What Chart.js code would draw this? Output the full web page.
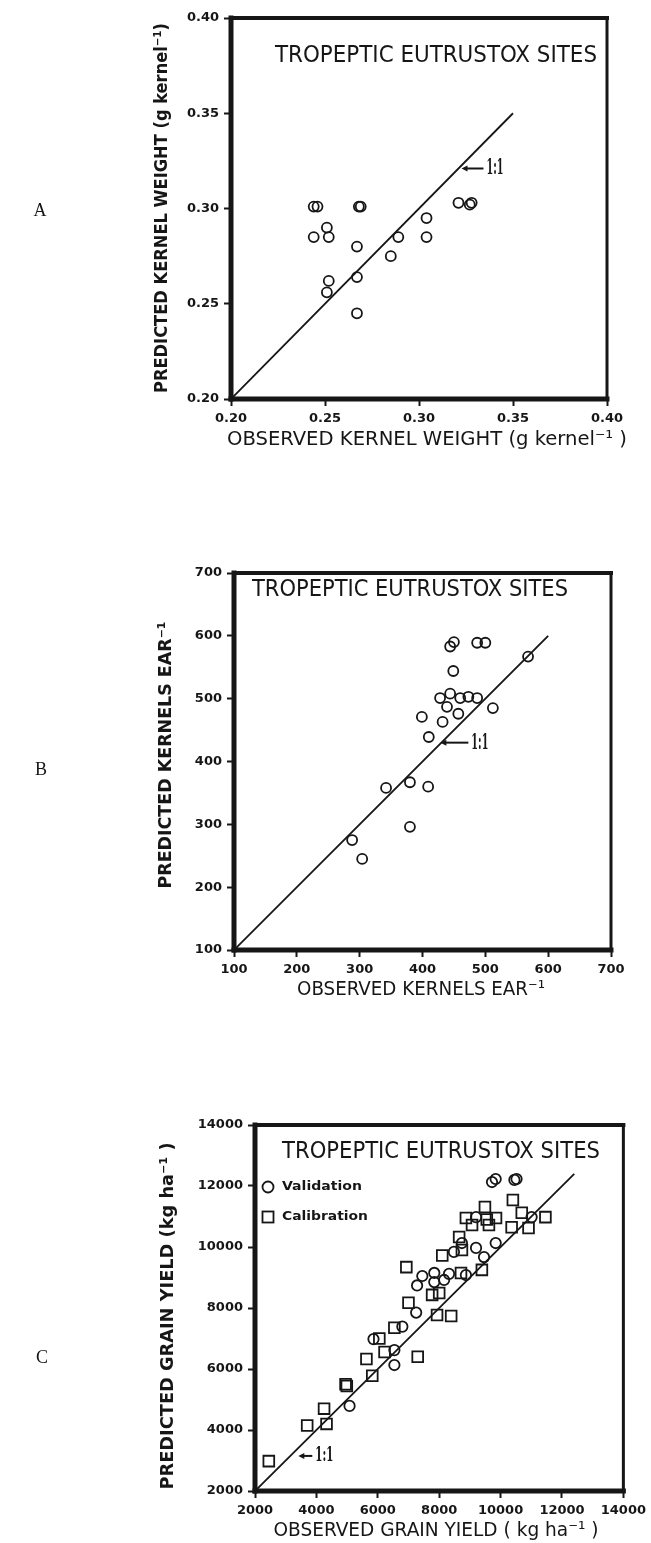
<!DOCTYPE html>
<html>
<head>
<meta charset="utf-8">
<script src="https://cdn.jsdelivr.net/npm/chart.js@4.4.1/dist/chart.umd.min.js"></script>
<style>
  html, body { margin: 0; padding: 0; background: #fff; }
  body { width: 651px; height: 1543px; position: relative; overflow: hidden; }
  canvas { position: absolute; left: 0; }
</style>
</head>
<body>
<canvas id="weightChart" width="651" height="470" style="top:0px"></canvas>
<canvas id="kernelsChart" width="651" height="480" style="top:540px"></canvas>
<canvas id="yieldChart" width="651" height="453" style="top:1090px"></canvas>
<script>
// ---- Panel A: kernel weight (g kernel-1) ----
const weightObserved  = [0.244, 0.246, 0.268, 0.269, 0.244, 0.251, 0.252, 0.267, 0.267, 0.252, 0.251, 0.267, 0.285, 0.289, 0.304, 0.304, 0.321, 0.327, 0.328];
const weightPredicted = [0.301, 0.301, 0.301, 0.301, 0.285, 0.290, 0.285, 0.280, 0.264, 0.262, 0.256, 0.245, 0.275, 0.285, 0.295, 0.285, 0.303, 0.302, 0.303];
const weightRange = [0.20, 0.40];
const weightStep = 0.05;
const weightOneToOne = [0.20, 0.35];

// ---- Panel B: kernels per ear ----
const kernelsObserved  = [288, 304, 342, 380, 409, 380, 410, 399, 432, 457, 439, 428, 444, 460, 473, 487, 512, 449, 444, 450, 487, 500, 568];
const kernelsPredicted = [275, 245, 358, 367, 360, 296, 439, 471, 463, 476, 487, 501, 508, 501, 503, 501, 485, 544, 583, 590, 589, 589, 567];
const kernelsRange = [100, 700];
const kernelsStep = 100;
const kernelsOneToOne = [100, 600];

// ---- Panel C: grain yield (kg ha-1) ----
const validationObserved  = [5080, 5860, 6540, 6540, 6800, 7250, 7450, 7280, 7840, 7840, 8320, 8160, 8480, 8870, 9200, 9460, 9840, 9200, 11010, 9720, 9840, 10450, 10520, 8740];
const validationPredicted = [4790, 6980, 6620, 6130, 7390, 7850, 9050, 8740, 9150, 8850, 9120, 8920, 9840, 9080, 9970, 9670, 10130, 10980, 10980, 12130, 12230, 12200, 12230, 10130];
const calibrationObserved  = [2450, 3700, 4250, 4330, 4950, 4990, 5630, 5820, 6050, 6220, 6540, 7000, 6930, 7300, 7770, 8000, 7930, 8390, 8100, 8650, 8710, 8740, 8870, 9390, 9490, 9550, 9620, 9850, 10400, 10690, 11460, 10360, 10910, 9070];
const calibrationPredicted = [2980, 4150, 4700, 4200, 5500, 5440, 6330, 5780, 7000, 6560, 7350, 8170, 9340, 6400, 8430, 8490, 7770, 7740, 9720, 10330, 9150, 9900, 10950, 9250, 11310, 10900, 10720, 10950, 11540, 11120, 10980, 10650, 10620, 10720];
const yieldRange = [2000, 14000];
const yieldStep = 2000;
const yieldOneToOne = [2000, 12400];

const siteTitle = 'TROPEPTIC EUTRUSTOX SITES';
const INK = '#161616';

function zip(xs, ys) { return xs.map((x, i) => ({ x, y: ys[i] })); }

function linearAxis(range, step, digits, fit, isX) {
  return {
    type: 'linear', min: range[0], max: range[1],
    ticks: {
      stepSize: step, autoSkip: false, maxRotation: 0, padding: 5, color: INK,
      font: { family: 'DejaVu Sans', weight: 'bold', size: 13 },
      callback: v => Number(v).toFixed(digits)
    },
    grid: { drawOnChartArea: false, drawTicks: true, tickLength: 7, tickWidth: 2, tickColor: INK },
    border: { display: false },
    afterFit: s => { if (isX) s.height = fit; else s.width = fit; }
  };
}

function scatterSet(xs, ys, style, radius) {
  return {
    type: 'scatter', data: zip(xs, ys), pointStyle: style,
    pointRadius: radius, pointHoverRadius: radius,
    pointBorderWidth: 1.8, pointBorderColor: INK, pointBackgroundColor: 'rgba(0,0,0,0)'
  };
}

function lineSet(ends) {
  return {
    type: 'line', data: zip(ends, ends), showLine: true, borderColor: INK,
    borderWidth: 1.8, pointRadius: 0, fill: false
  };
}

// draw a string centred on (cx, cy) and squeezed/stretched to a given width
function fitText(ctx, str, cx, cy, width, font, rotate) {
  ctx.save();
  ctx.font = font;
  ctx.fillStyle = INK;
  const w = ctx.measureText(str).width;
  ctx.translate(cx, cy);
  if (rotate) ctx.rotate(rotate);
  ctx.scale(width / w, 1);
  ctx.textAlign = 'center';
  ctx.textBaseline = 'middle';
  ctx.fillText(str, 0, 0);
  ctx.restore();
}

function strokeSeg(ctx, x1, y1, x2, y2, w) {
  ctx.lineWidth = w;
  ctx.beginPath(); ctx.moveTo(x1, y1); ctx.lineTo(x2, y2); ctx.stroke();
}

// frame: heavy axes on the left and bottom, lighter top and right
const framePlugin = {
  id: 'frame',
  afterDatasetsDraw(chart) {
    const { ctx, chartArea: a } = chart;
    ctx.save();
    ctx.strokeStyle = INK;
    ctx.lineCap = 'square';
    strokeSeg(ctx, a.left, a.top, a.right, a.top, 4);
    strokeSeg(ctx, a.right, a.top, a.right, a.bottom, 3);
    strokeSeg(ctx, a.left, a.top, a.left, a.bottom, 5);
    strokeSeg(ctx, a.left, a.bottom, a.right, a.bottom, 5);
    ctx.restore();
  }
};

// titles, panel letter, 1:1 pointer and (optionally) the symbol key
const annotationPlugin = {
  id: 'annotations',
  afterDraw(chart, args, o) {
    const ctx = chart.ctx;
    const a = chart.chartArea;
    const sx = chart.scales.x, sy = chart.scales.y;
    // panel letter
    ctx.save();
    ctx.font = '18px "Liberation Serif", "DejaVu Serif", serif';
    ctx.fillStyle = INK; ctx.textAlign = 'center'; ctx.textBaseline = 'middle';
    ctx.fillText(o.letter, o.letterPos[0], o.letterPos[1]);
    ctx.restore();
    // inner heading
    fitText(ctx, siteTitle, o.head[0], o.head[1], o.head[2], '23px "DejaVu Sans Condensed", "DejaVu Sans", sans-serif');
    // axis titles
    fitText(ctx, o.xTitle, o.xPos[0], o.xPos[1], o.xPos[2], '20px "DejaVu Sans Condensed", "DejaVu Sans", sans-serif');
    fitText(ctx, o.yTitle, o.yPos[0], o.yPos[1], o.yPos[2], 'bold 18px "DejaVu Sans Condensed", "DejaVu Sans", sans-serif', -Math.PI / 2);
    // 1:1 pointer
    const px = sx.getPixelForValue(o.ratioAt), py = sy.getPixelForValue(o.ratioAt);
    const tip = px + o.ratioGap, tail = tip + o.ratioLen;
    ctx.save();
    ctx.strokeStyle = INK; ctx.fillStyle = INK;
    strokeSeg(ctx, tip + 3, py, tail, py, 2);
    ctx.beginPath(); ctx.moveTo(tip, py); ctx.lineTo(tip + 6, py - 3); ctx.lineTo(tip + 6, py + 3); ctx.closePath(); ctx.fill();
    ctx.restore();
    fitText(ctx, '1:1', tail + 3 + o.ratioText[0] / 2, py, o.ratioText[0], 'bold ' + o.ratioText[1] + 'px "DejaVu Serif Condensed", "DejaVu Serif", serif');
    // symbol key
    if (o.key) {
      ctx.save();
      ctx.strokeStyle = INK; ctx.lineWidth = 1.8;
      const kx = a.left + 13;
      const y1 = a.top + 62, y2 = a.top + 92;
      ctx.beginPath(); ctx.arc(kx, y1, 5.5, 0, Math.PI * 2); ctx.stroke();
      ctx.strokeRect(kx - 5.5, y2 - 5.5, 11, 11);
      ctx.restore();
      fitText(ctx, 'Validation', kx + 14 + 40, y1, 80, 'bold 13px "DejaVu Sans", sans-serif');
      fitText(ctx, 'Calibration', kx + 14 + 43, y2, 86, 'bold 13px "DejaVu Sans", sans-serif');
    }
  }
};

Chart.register(framePlugin, annotationPlugin);

function baseOptions(padding, xAxis, yAxis, annot) {
  return {
    responsive: false, animation: false, devicePixelRatio: 1,
    layout: { padding },
    scales: { x: xAxis, y: yAxis },
    plugins: { legend: { display: false }, tooltip: { enabled: false }, annotations: annot }
  };
}

// Panel A
new Chart(document.getElementById('weightChart'), {
  data: { datasets: [lineSet(weightOneToOne), scatterSet(weightObserved, weightPredicted, 'circle', 5)] },
  options: baseOptions(
    { left: 171, right: 44, top: 18, bottom: 41 },
    linearAxis(weightRange, weightStep, 2, 30, true),
    linearAxis(weightRange, weightStep, 2, 60, false),
    {
      letter: 'A', letterPos: [40, 211],
      head: [436, 56, 322],
      xTitle: 'OBSERVED KERNEL WEIGHT (g kernel\u207B\u00B9 )', xPos: [427, 440, 400],
      yTitle: 'PREDICTED KERNEL WEIGHT (g kernel\u207B\u00B9)', yPos: [162, 208, 370],
      ratioAt: 0.321, ratioGap: 3, ratioLen: 22, ratioText: [17, 23]
    })
});

// Panel B
new Chart(document.getElementById('kernelsChart'), {
  data: { datasets: [lineSet(kernelsOneToOne), scatterSet(kernelsObserved, kernelsPredicted, 'circle', 5)] },
  options: baseOptions(
    { left: 174, right: 40, top: 33, bottom: 40 },
    linearAxis(kernelsRange, kernelsStep, 0, 30, true),
    linearAxis(kernelsRange, kernelsStep, 0, 60, false),
    {
      letter: 'B', letterPos: [41, 230],
      head: [410, 50, 316],
      xTitle: 'OBSERVED KERNELS EAR\u207B\u00B9', xPos: [421, 450, 248],
      yTitle: 'PREDICTED KERNELS EAR\u207B\u00B9', yPos: [166, 215, 267],
      ratioAt: 430, ratioGap: -1, ratioLen: 28, ratioText: [17, 23]
    })
});

// Panel C
new Chart(document.getElementById('yieldChart'), {
  data: {
    datasets: [
      lineSet(yieldOneToOne),
      scatterSet(calibrationObserved, calibrationPredicted, 'rect', 7.6),
      scatterSet(validationObserved, validationPredicted, 'circle', 5.2)
    ]
  },
  options: baseOptions(
    { left: 195, right: 26, top: 35, bottom: 22 },
    linearAxis(yieldRange, yieldStep, 0, 30, true),
    linearAxis(yieldRange, yieldStep, 0, 60, false),
    {
      letter: 'C', letterPos: [42, 268],
      head: [441, 62, 318],
      xTitle: 'OBSERVED GRAIN YIELD ( kg ha\u207B\u00B9 )', xPos: [436, 441, 325],
      yTitle: 'PREDICTED GRAIN YIELD (kg ha\u207B\u00B9 )', yPos: [168, 226, 347],
      ratioAt: 3150, ratioGap: 8, ratioLen: 14, ratioText: [18, 20],
      key: true
    })
});
</script>
</body>
</html>
